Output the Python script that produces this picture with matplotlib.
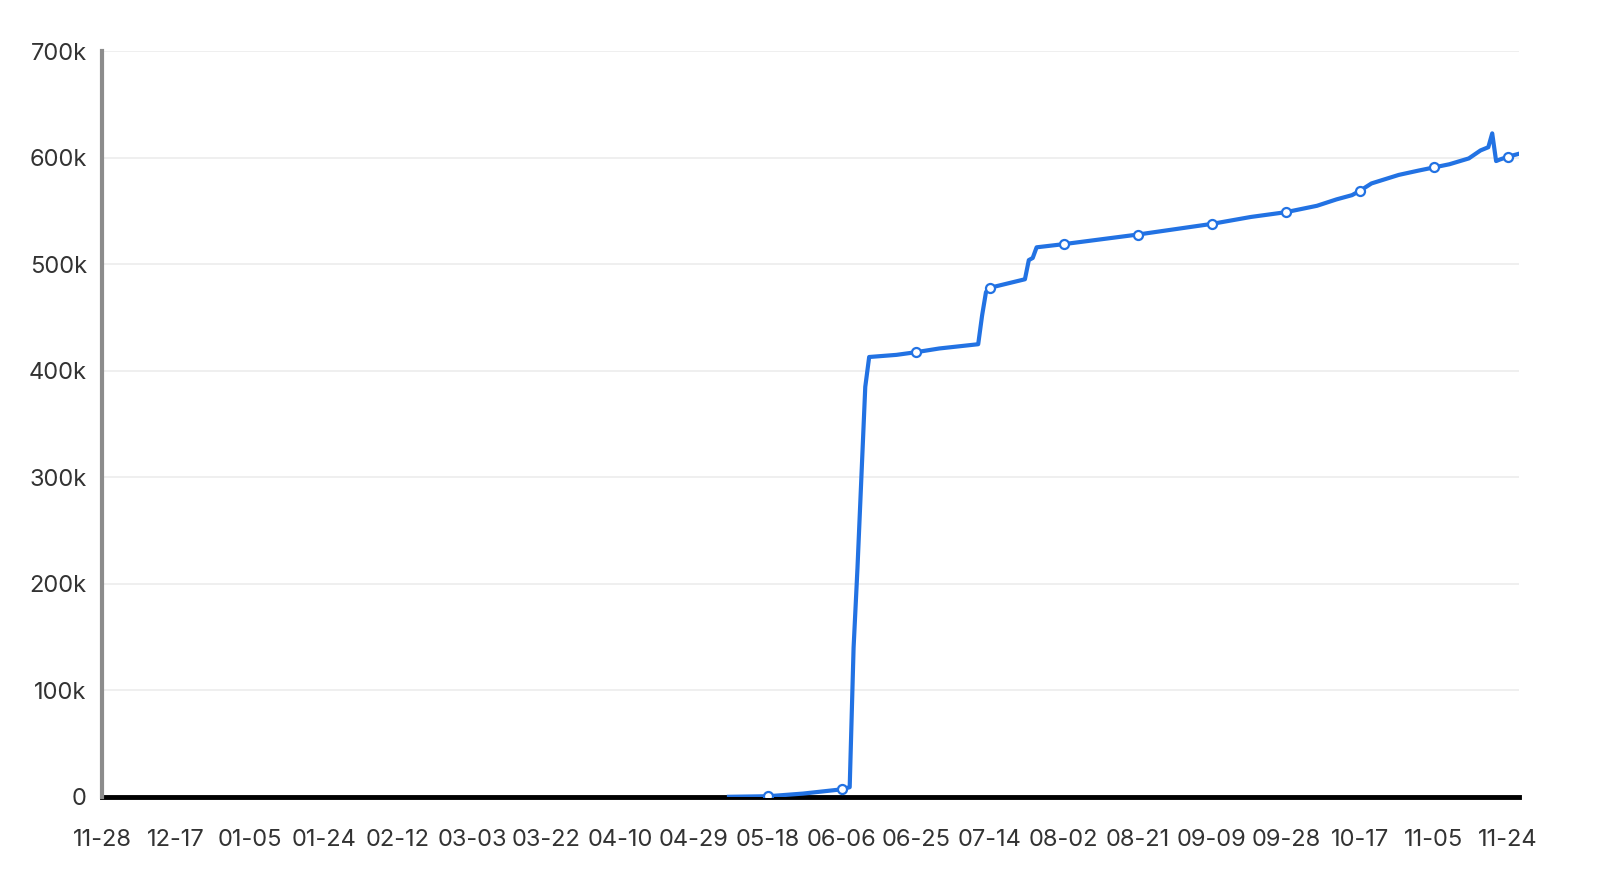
import numpy as np
import pandas as pd
import matplotlib
matplotlib.use("Agg")
import matplotlib.pyplot as plt
import matplotlib.dates as mdates
from matplotlib.ticker import FuncFormatter

plt.rcParams['font.family'] = ['Inter', 'DejaVu Sans']

# daily cumulative count (in units)
dates = ["2023-05-08", "2023-05-18", "2023-05-27", "2023-06-06", "2023-06-08",
         "2023-06-09", "2023-06-10", "2023-06-11", "2023-06-12", "2023-06-13",
         "2023-06-20", "2023-06-25", "2023-07-01", "2023-07-11", "2023-07-12",
         "2023-07-13", "2023-07-14", "2023-07-23", "2023-07-24", "2023-07-25",
         "2023-07-26", "2023-08-02", "2023-08-21", "2023-09-09", "2023-09-19",
         "2023-09-28", "2023-10-06", "2023-10-11", "2023-10-15", "2023-10-17",
         "2023-10-20", "2023-10-27", "2023-11-01", "2023-11-05", "2023-11-09",
         "2023-11-14", "2023-11-17", "2023-11-19", "2023-11-20", "2023-11-21",
         "2023-11-22", "2023-11-24", "2023-11-27"]
values = [0, 500, 3000, 7000, 9000,
          140000, 215000, 300000, 385000, 413000,
          415000, 417500, 421000, 425000, 452000,
          474000, 478000, 486000, 504000, 506000,
          516000, 519000, 528000, 538000, 544500,
          549000, 555000, 561000, 565000, 569000,
          576000, 584000, 588000, 591000, 594000,
          599500, 607000, 610000, 623000, 597000,
          598500, 601000, 604000]

start = "2022-11-28"
end = "2023-11-27"
label_step = 19

d = pd.to_datetime(dates)
v = np.array(values, dtype=float)
ticks = pd.date_range(start, periods=20, freq=f"{label_step}D")

fig = plt.figure(figsize=(16.12, 8.86), dpi=100)
ax = fig.add_axes([0.0633, 0.1007, 0.8793, 0.8413])

blue = "#2272e3"
ax.plot(d, v, color=blue, lw=3, solid_joinstyle="round", zorder=3)

# symbols only where a label sits
mask = d.isin(ticks)
ax.plot(d[mask], v[mask], ls="none", marker="o", ms=6.5, mfc="white",
        mec=blue, mew=1.6, zorder=4)

ax.set_xlim(pd.Timestamp(start), pd.Timestamp(end))
ax.set_ylim(0, 700000)
ax.set_xticks(ticks)
ax.xaxis.set_major_formatter(mdates.DateFormatter("%m-%d"))
ax.set_yticks(np.arange(0, 700001, 100000))
ax.yaxis.set_major_formatter(FuncFormatter(lambda x, p: "0" if x == 0 else f"{x/1000:.0f}k"))

ax.grid(axis="y", color="#eeeeee", lw=1.3, zorder=0)
ax.grid(axis="x", visible=False)
for s in ["top", "right"]:
    ax.spines[s].set_visible(False)
ax.spines["left"].set_color("#8c8c8c")
ax.spines["left"].set_linewidth(3)
ax.spines["bottom"].set_color("black")
ax.spines["bottom"].set_linewidth(3.5)
ax.spines["bottom"].set_zorder(2)

ax.tick_params(axis="both", length=0, labelsize=17, colors="#333333")
ax.tick_params(axis="y", pad=11)
ax.tick_params(axis="x", pad=23)

fig.savefig("out.png", dpi=100, facecolor="white")
